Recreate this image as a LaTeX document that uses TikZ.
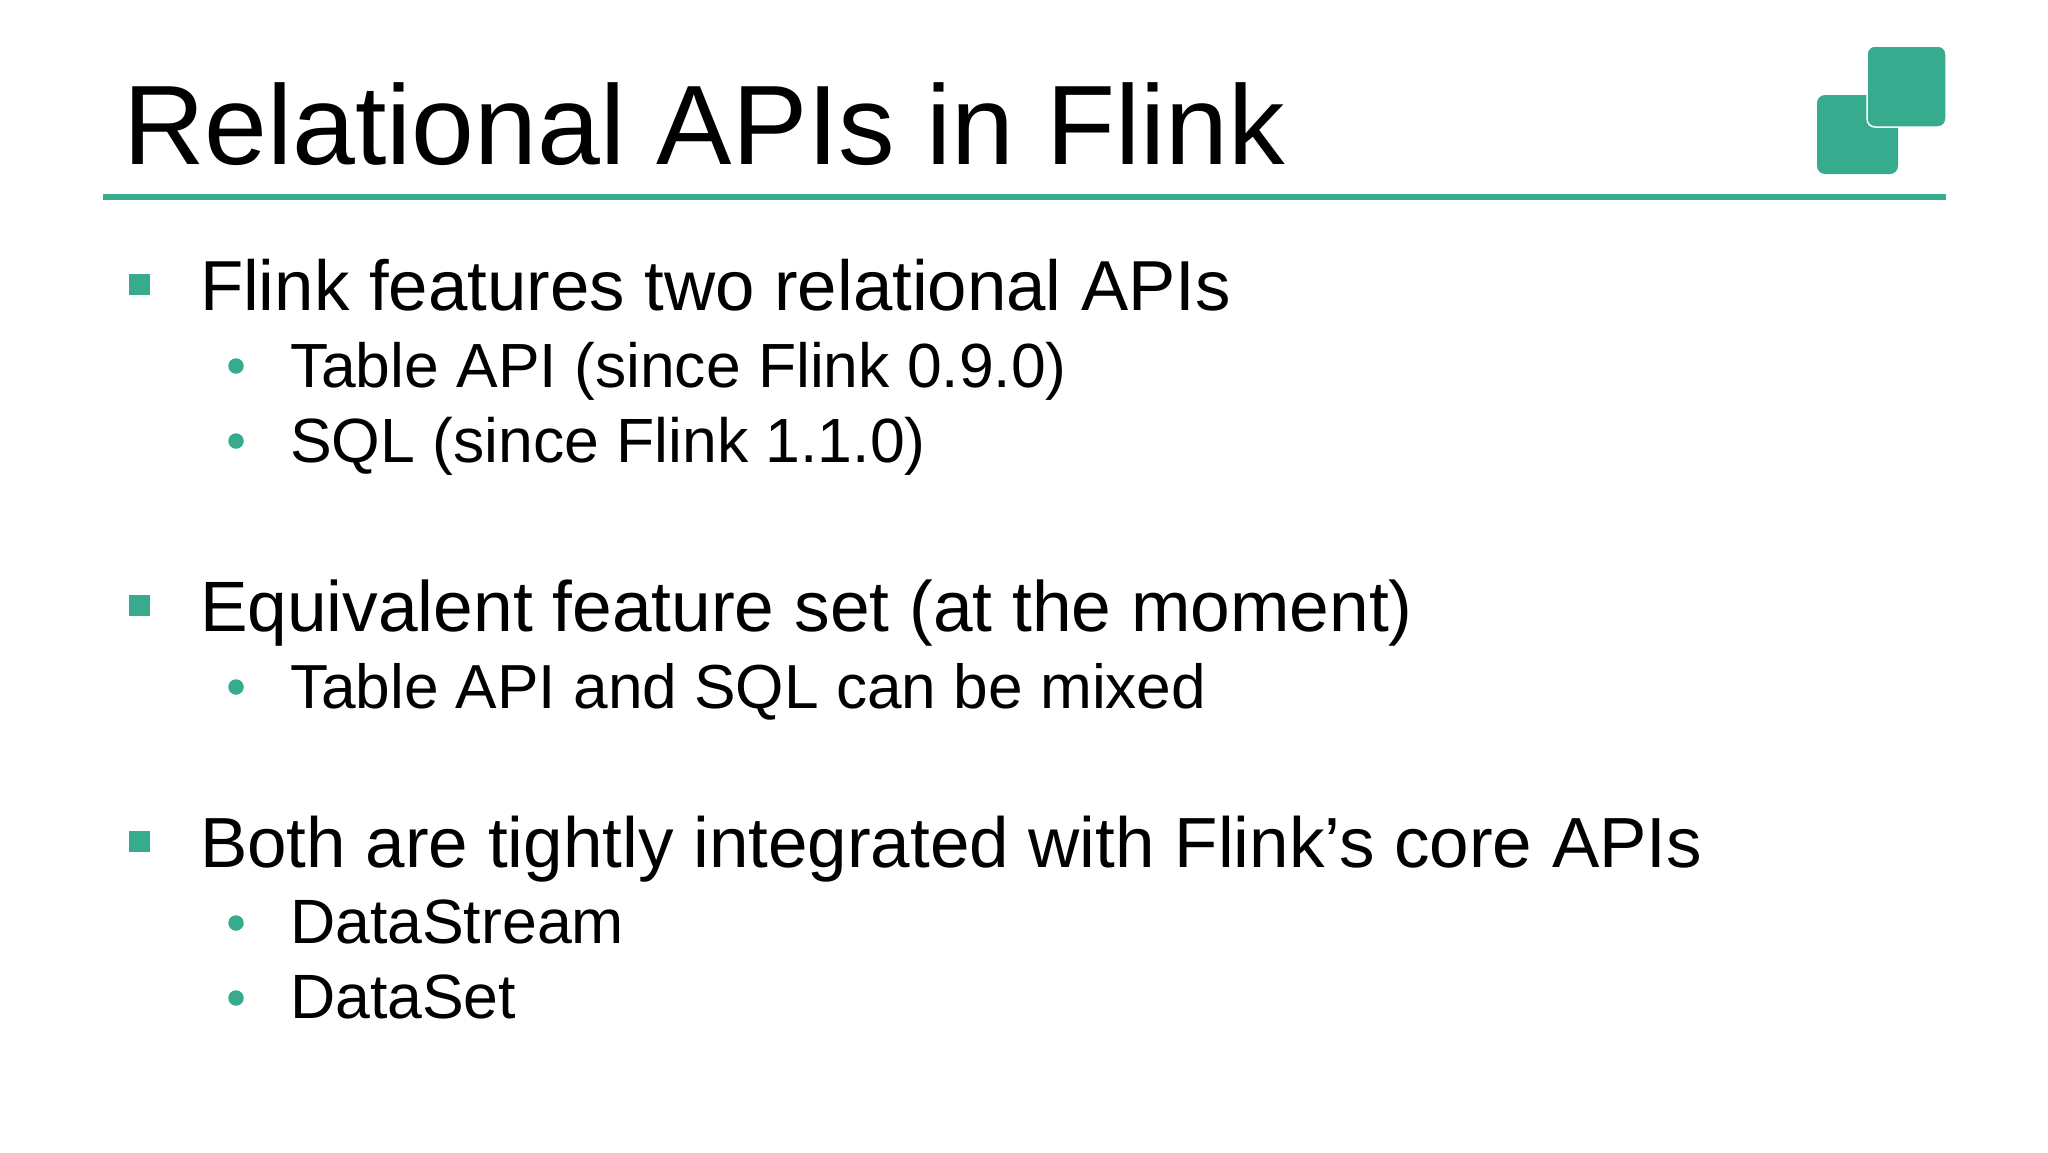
\documentclass[tikz,border=0pt]{standalone}
\usepackage{fontspec}
\setmainfont{Liberation Sans}
\definecolor{flink}{HTML}{36AB8E}
\definecolor{ink}{HTML}{000000}
\tikzset{
  txt/.style={anchor=base west,inner sep=0pt,outer sep=0pt,text=ink},
  titletxt/.style={txt,font=\fontsize{113}{120}\selectfont},
  lone/.style={txt,font=\fontsize{#1}{80}\selectfont},
  lone/.default=71,
  ltwo/.style={txt,font=\fontsize{#1}{70}\selectfont},
  ltwo/.default=62.6,
  sq/.style={fill=flink,draw=none},
  dot/.style={circle,fill=flink,draw=none,minimum size=15.5pt,inner sep=0pt},
  logo/.style={fill=flink,rounded corners=8pt}
}
\begin{document}
\begin{tikzpicture}[x=1pt,y=-1pt]
\useasboundingbox (0,0) rectangle (2048,1152);
\fill[white] (0,0) rectangle (2048,1152);
\node[titletxt] (title) at (123,164) {Relational APIs in Flink};
\fill[flink] (103,194) rectangle (1946,200);
\fill[logo] (1817,95) rectangle (1898,174);
\draw[logo,draw=white,line width=1.5pt] (1867,46) rectangle (1946,127);
\fill[sq] (129,274) rectangle (150,295);
\fill[sq] (129,595) rectangle (150,616);
\fill[sq] (129,831) rectangle (150,852);
\node[dot] (d1) at (236,366) {};
\node[dot] (d2) at (236,441) {};
\node[dot] (d3) at (236,687) {};
\node[dot] (d4) at (236,923) {};
\node[dot] (d5) at (236,998) {};
\node[lone=70.8] (a) at (200,310) {Flink features two relational APIs};
\node[ltwo=62.4] (a1) at (290,387) {Table API (since Flink 0.9.0)};
\node[ltwo=62.5] (a2) at (290,462) {SQL (since Flink 1.1.0)};
\node[lone=71.3] (b) at (200,631) {Equivalent feature set (at the moment)};
\node[ltwo=62.2] (b1) at (290,708) {Table API and SQL can be mixed};
\node[lone] (c) at (200,867) {Both are tightly integrated with Flink’s core APIs};
\node[ltwo] (c1) at (290,943) {DataStream};
\node[ltwo] (c2) at (290,1018) {DataSet};
\end{tikzpicture}
\end{document}
